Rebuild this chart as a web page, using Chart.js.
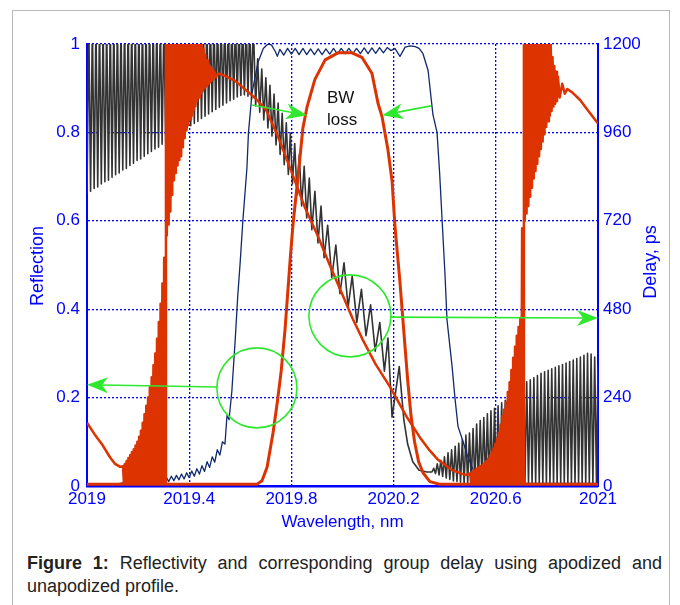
<!DOCTYPE html>
<html>
<head>
<meta charset="utf-8">
<script src="https://cdn.jsdelivr.net/npm/chart.js@4.4.1/dist/chart.umd.min.js"></script>
<style>
  body { margin: 0; background: #fff; }
  #frame { position: absolute; left: 12px; top: 10px; width: 656px; height: 620px; border: 1px solid #b8b8b8; }
  #chart { position: absolute; left: 0; top: 0; }
  #caption {
    position: absolute; left: 27px; top: 552px; width: 635px;
    font: 18px "Liberation Sans", Arial, sans-serif; line-height: 23px;
    text-align: justify; color: #222;
  }
</style>
</head>
<body>
<div id="frame"></div>
<canvas id="chart" width="680" height="540"></canvas>
<div id="caption"><b>Figure 1:</b> Reflectivity and corresponding group delay using apodized and unapodized profile.</div>
<script>
// axis ticks and titles
const xTicks = [2019, 2019.4, 2019.8, 2020.2, 2020.6, 2021];
const xTickLabels = ["2019", "2019.4", "2019.8", "2020.2", "2020.6", "2021"];
const reflTicks = [0, 0.2, 0.4, 0.6, 0.8, 1];
const reflTickLabels = ["0", "0.2", "0.4", "0.6", "0.8", "1"];
const delayTicks = [0, 240, 480, 720, 960, 1200];
const delayTickLabels = ["0", "240", "480", "720", "960", "1200"];
const xTitle = "Wavelength, nm";
const reflTitle = "Reflection";
const delayTitle = "Delay, ps";

// apodized reflectivity [wavelength nm, reflection]
const apoRefl = [
  [2019.000, 0.004], [2019.665, 0.004], [2019.685, 0.012], [2019.705, 0.043], [2019.728, 0.120],
  [2019.745, 0.190], [2019.760, 0.260], [2019.775, 0.353], [2019.795, 0.511], [2019.806, 0.590],
  [2019.826, 0.700], [2019.845, 0.810], [2019.861, 0.857], [2019.892, 0.920], [2019.932, 0.964],
  [2019.982, 0.980], [2020.037, 0.980], [2020.076, 0.970], [2020.115, 0.934], [2020.139, 0.866],
  [2020.155, 0.835], [2020.178, 0.760], [2020.194, 0.690], [2020.205, 0.590], [2020.225, 0.460],
  [2020.240, 0.350], [2020.255, 0.240], [2020.268, 0.160], [2020.282, 0.100], [2020.298, 0.055],
  [2020.315, 0.030], [2020.342, 0.010], [2020.380, 0.004], [2021.000, 0.004]
];

// unapodized reflectivity [wavelength nm, reflection]
const unapoRefl = [
  [2019.000, 0.004], [2019.060, 0.004], [2019.120, 0.005], [2019.150, 0.008], [2019.165, 0.004],
  [2019.180, 0.006], [2019.190, 0.012], [2019.200, 0.005], [2019.210, 0.013], [2019.220, 0.006],
  [2019.230, 0.014], [2019.240, 0.006], [2019.250, 0.015], [2019.260, 0.007], [2019.270, 0.016],
  [2019.280, 0.008], [2019.290, 0.018], [2019.300, 0.009], [2019.310, 0.020], [2019.320, 0.010],
  [2019.330, 0.022], [2019.340, 0.012], [2019.350, 0.024], [2019.360, 0.014], [2019.370, 0.027],
  [2019.380, 0.016], [2019.390, 0.030], [2019.400, 0.019], [2019.410, 0.034], [2019.420, 0.022],
  [2019.430, 0.039], [2019.440, 0.027], [2019.450, 0.046], [2019.460, 0.033], [2019.470, 0.055],
  [2019.480, 0.042], [2019.490, 0.066], [2019.500, 0.054], [2019.510, 0.082], [2019.520, 0.070],
  [2019.530, 0.100], [2019.540, 0.095], [2019.548, 0.160], [2019.556, 0.150], [2019.567, 0.215],
  [2019.580, 0.330], [2019.590, 0.430], [2019.600, 0.510], [2019.610, 0.600], [2019.626, 0.720],
  [2019.632, 0.800], [2019.646, 0.890], [2019.670, 0.960], [2019.690, 0.990], [2019.708, 1.000],
  [2019.722, 0.998], [2019.738, 0.982], [2019.745, 0.972], [2019.755, 0.988], [2019.770, 0.975],
  [2019.785, 0.990], [2019.800, 0.977], [2019.815, 0.990], [2019.830, 0.976], [2019.845, 0.990],
  [2019.860, 0.976], [2019.875, 0.989], [2019.890, 0.976], [2019.905, 0.989], [2019.920, 0.976],
  [2019.935, 0.989], [2019.950, 0.977], [2019.965, 0.990], [2019.980, 0.977], [2019.995, 0.990],
  [2020.010, 0.978], [2020.025, 0.990], [2020.040, 0.978], [2020.055, 0.990], [2020.070, 0.978],
  [2020.085, 0.991], [2020.100, 0.978], [2020.115, 0.991], [2020.130, 0.979], [2020.145, 0.992],
  [2020.160, 0.980], [2020.175, 0.992], [2020.190, 0.985], [2020.205, 0.990], [2020.225, 0.972],
  [2020.245, 0.993], [2020.265, 0.996], [2020.285, 0.994], [2020.300, 0.990], [2020.315, 0.978],
  [2020.335, 0.940], [2020.354, 0.840], [2020.370, 0.800], [2020.380, 0.710], [2020.390, 0.600],
  [2020.401, 0.480], [2020.409, 0.376], [2020.429, 0.270], [2020.440, 0.200], [2020.452, 0.135],
  [2020.472, 0.100], [2020.487, 0.072], [2020.507, 0.043], [2020.526, 0.020], [2020.560, 0.008],
  [2020.700, 0.006], [2021.000, 0.006]
];

// apodized group delay [wavelength nm, ps]
const apoDelay = [
  [2019.000, 172], [2019.030, 140], [2019.060, 112], [2019.090, 78], [2019.110, 60], [2019.130, 52],
  [2019.1410, 54], [2019.1445, 6], [2019.1480, 60], [2019.1515, 6], [2019.1550, 68], [2019.1585, 6],
  [2019.1620, 76], [2019.1655, 6], [2019.1690, 84], [2019.1725, 6], [2019.1760, 92], [2019.1795, 6],
  [2019.1830, 100], [2019.1865, 6], [2019.1900, 110], [2019.1935, 6], [2019.1970, 120], [2019.2005, 6],
  [2019.2040, 134], [2019.2075, 6], [2019.2110, 150], [2019.2145, 6], [2019.2180, 172], [2019.2215, 6],
  [2019.2250, 195], [2019.2285, 6], [2019.2320, 218], [2019.2355, 6], [2019.2390, 240], [2019.2425, 6],
  [2019.2460, 268], [2019.2495, 6], [2019.2530, 295], [2019.2565, 6], [2019.2600, 328], [2019.2635, 6],
  [2019.2670, 360], [2019.2705, 6], [2019.2740, 400], [2019.2775, 6], [2019.2810, 445], [2019.2845, 6],
  [2019.2880, 495], [2019.2915, 6], [2019.2950, 550], [2019.2985, 6], [2019.3020, 620], [2019.3055, 6],
  [2019.3090, 1260], [2019.3125, 680], [2019.3160, 1260], [2019.3195, 710], [2019.3230, 1260], [2019.3265, 745],
  [2019.3300, 1260], [2019.3335, 790], [2019.3370, 1260], [2019.3405, 830], [2019.3440, 1260], [2019.3475, 850],
  [2019.3510, 1260], [2019.3545, 870], [2019.3580, 1260], [2019.3615, 885], [2019.3650, 1260], [2019.3685, 895],
  [2019.3720, 1260], [2019.3755, 920], [2019.3790, 1260], [2019.3825, 945], [2019.3860, 1260], [2019.3895, 965],
  [2019.3930, 1260], [2019.3965, 980], [2019.4000, 1260], [2019.4035, 995], [2019.4070, 1260], [2019.4105, 1005],
  [2019.4140, 1260], [2019.4175, 1020], [2019.4210, 1260], [2019.4245, 1032], [2019.4280, 1260], [2019.4315, 1045],
  [2019.4350, 1250], [2019.4385, 1055], [2019.4420, 1230], [2019.4455, 1065], [2019.4490, 1205], [2019.4525, 1072],
  [2019.4560, 1185], [2019.4595, 1080], [2019.4630, 1170], [2019.4665, 1085], [2019.4700, 1155], [2019.4735, 1090],
  [2019.4770, 1145], [2019.4805, 1095], [2019.4840, 1138], [2019.4875, 1100], [2019.4910, 1132], [2019.4945, 1104],
  [2019.4980, 1126], [2019.5050, 1110], [2019.5120, 1120],
  [2019.532, 1116], [2019.580, 1100], [2019.620, 1076], [2019.660, 1052], [2019.700, 1022], [2019.748, 948],
  [2019.802, 850], [2019.853, 756], [2019.904, 678], [2019.950, 600], [2020.002, 516], [2020.040, 454],
  [2020.080, 396], [2020.130, 330], [2020.186, 269], [2020.252, 187], [2020.303, 132], [2020.342, 96],
  [2020.374, 71], [2020.429, 43], [2020.479, 30],
  [2020.5000, 34], [2020.5035, 6], [2020.5070, 38], [2020.5105, 6], [2020.5140, 42], [2020.5175, 6],
  [2020.5210, 45], [2020.5245, 6], [2020.5280, 48], [2020.5315, 6], [2020.5350, 51], [2020.5385, 6],
  [2020.5420, 54], [2020.5455, 6], [2020.5490, 58], [2020.5525, 6], [2020.5560, 62], [2020.5595, 6],
  [2020.5630, 68], [2020.5665, 6], [2020.5700, 74], [2020.5735, 6], [2020.5770, 82], [2020.5805, 6],
  [2020.5840, 90], [2020.5875, 6], [2020.5910, 102], [2020.5945, 6], [2020.5980, 114], [2020.6015, 6],
  [2020.6050, 128], [2020.6085, 6], [2020.6120, 144], [2020.6155, 6], [2020.6190, 166], [2020.6225, 6],
  [2020.6260, 190], [2020.6295, 6], [2020.6330, 208], [2020.6365, 6], [2020.6400, 228], [2020.6435, 6],
  [2020.6470, 255], [2020.6505, 6], [2020.6540, 282], [2020.6575, 6], [2020.6610, 315], [2020.6645, 6],
  [2020.6680, 348], [2020.6715, 6], [2020.6750, 378], [2020.6785, 6], [2020.6820, 408], [2020.6855, 6],
  [2020.6890, 432], [2020.6925, 6], [2020.6960, 456], [2020.6995, 6], [2020.7030, 700], [2020.7065, 6],
  [2020.7100, 1260], [2020.7135, 720], [2020.7170, 1260], [2020.7205, 740], [2020.7240, 1260], [2020.7275, 760],
  [2020.7310, 1260], [2020.7345, 785], [2020.7380, 1260], [2020.7415, 810], [2020.7450, 1260], [2020.7485, 835],
  [2020.7520, 1260], [2020.7555, 855], [2020.7590, 1260], [2020.7625, 875], [2020.7660, 1260], [2020.7695, 895],
  [2020.7730, 1260], [2020.7765, 915], [2020.7800, 1260], [2020.7835, 935], [2020.7870, 1260], [2020.7905, 955],
  [2020.7940, 1260], [2020.7975, 975], [2020.8010, 1260], [2020.8045, 990], [2020.8080, 1240], [2020.8115, 1005],
  [2020.8150, 1200], [2020.8185, 1018], [2020.8220, 1165], [2020.8255, 1030], [2020.8290, 1140], [2020.8325, 1038],
  [2020.8360, 1125], [2020.8395, 1045], [2020.8430, 1112], [2020.8500, 1055], [2020.8600, 1092], [2020.8700, 1065],
  [2020.8800, 1078], [2020.9000, 1068], [2020.9300, 1048], [2020.9600, 1020], [2021.0000, 984]
];

// unapodized group delay [wavelength nm, ps]
const unapoDelay = [
  [2019.000, 795], [2019.007, 1260], [2019.014, 800], [2019.021, 1260], [2019.028, 808], [2019.035, 1260],
  [2019.042, 812], [2019.049, 1260], [2019.056, 820], [2019.063, 1260], [2019.070, 826], [2019.077, 1260],
  [2019.084, 830], [2019.091, 1260], [2019.098, 838], [2019.105, 1260], [2019.112, 845], [2019.119, 1260],
  [2019.126, 850], [2019.133, 1260], [2019.140, 858], [2019.147, 1260], [2019.154, 862], [2019.161, 1260],
  [2019.168, 870], [2019.175, 1260], [2019.182, 876], [2019.189, 1260], [2019.196, 884], [2019.203, 1260],
  [2019.210, 888], [2019.217, 1260], [2019.224, 895], [2019.231, 1260], [2019.238, 902], [2019.245, 1260],
  [2019.252, 908], [2019.259, 1260], [2019.266, 915], [2019.273, 1260], [2019.280, 920], [2019.287, 1260],
  [2019.294, 928], [2019.301, 1260], [2019.308, 934], [2019.315, 1260], [2019.322, 940], [2019.329, 1260],
  [2019.336, 946], [2019.343, 1260], [2019.350, 952], [2019.357, 1260], [2019.364, 960], [2019.371, 1260],
  [2019.378, 965], [2019.385, 1260], [2019.392, 972], [2019.399, 1260], [2019.406, 978], [2019.413, 1260],
  [2019.420, 984], [2019.427, 1260], [2019.434, 990], [2019.441, 1260], [2019.448, 998], [2019.455, 1260],
  [2019.462, 1004], [2019.469, 1260], [2019.476, 1010], [2019.483, 1260], [2019.490, 1016], [2019.497, 1260],
  [2019.504, 1022], [2019.511, 1260], [2019.518, 1028], [2019.525, 1260], [2019.532, 1034], [2019.539, 1260],
  [2019.546, 1040], [2019.553, 1260], [2019.560, 1046], [2019.567, 1260], [2019.574, 1050], [2019.581, 1260],
  [2019.588, 1056], [2019.595, 1260], [2019.602, 1060], [2019.609, 1260], [2019.616, 1062], [2019.623, 1260],
  [2019.630, 1058], [2019.637, 1260], [2019.644, 1050],
  [2019.651, 1260], [2019.660, 1032], [2019.668, 1160], [2019.676, 1015], [2019.684, 1132], [2019.692, 994],
  [2019.700, 1108], [2019.708, 972], [2019.716, 1088], [2019.724, 950], [2019.732, 1064], [2019.740, 926],
  [2019.748, 1040], [2019.756, 900], [2019.764, 1012], [2019.772, 872], [2019.780, 986], [2019.788, 846],
  [2019.796, 958], [2019.804, 820], [2019.813, 930], [2019.822, 790], [2019.831, 900], [2019.840, 760],
  [2019.850, 868], [2019.860, 728], [2019.870, 836], [2019.880, 696], [2019.892, 800], [2019.904, 660],
  [2019.916, 760], [2019.928, 620],
  [2019.942, 708], [2019.958, 566], [2019.974, 654], [2019.990, 522], [2020.006, 606], [2020.022, 486],
  [2020.038, 570], [2020.056, 444], [2020.074, 534], [2020.092, 408], [2020.110, 492], [2020.128, 366],
  [2020.146, 444], [2020.164, 312], [2020.178, 402], [2020.194, 187], [2020.222, 324], [2020.240, 180],
  [2020.255, 114], [2020.275, 66], [2020.300, 43], [2020.330, 38],
  [2020.350, 38], [2020.357, 48], [2020.364, 34], [2020.371, 60], [2020.378, 30], [2020.385, 70],
  [2020.392, 26], [2020.399, 79], [2020.406, 22], [2020.413, 90], [2020.420, 18], [2020.427, 98],
  [2020.434, 14], [2020.441, 108], [2020.448, 12], [2020.455, 116], [2020.462, 10], [2020.469, 126],
  [2020.476, 6], [2020.483, 138], [2020.490, 6], [2020.497, 144], [2020.504, 6], [2020.511, 156],
  [2020.518, 6], [2020.525, 168], [2020.532, 6], [2020.539, 178], [2020.546, 6], [2020.553, 186],
  [2020.560, 6], [2020.567, 196], [2020.574, 6], [2020.581, 204], [2020.588, 6], [2020.595, 211],
  [2020.602, 6], [2020.609, 218], [2020.616, 6], [2020.623, 226], [2020.630, 6], [2020.637, 233],
  [2020.644, 6], [2020.651, 240], [2020.658, 6], [2020.665, 247], [2020.672, 6], [2020.679, 254],
  [2020.686, 6], [2020.693, 262], [2020.700, 6], [2020.707, 276], [2020.714, 6], [2020.721, 283],
  [2020.728, 6], [2020.735, 288], [2020.742, 6], [2020.749, 294], [2020.756, 6], [2020.763, 300],
  [2020.770, 6], [2020.777, 306], [2020.784, 6], [2020.791, 310], [2020.798, 6], [2020.805, 314],
  [2020.812, 6], [2020.819, 318], [2020.826, 6], [2020.833, 322], [2020.840, 6], [2020.847, 326],
  [2020.854, 6], [2020.861, 330], [2020.868, 6], [2020.875, 334], [2020.882, 6], [2020.889, 338],
  [2020.896, 6], [2020.903, 342], [2020.910, 6], [2020.917, 346], [2020.924, 6], [2020.931, 350],
  [2020.938, 6], [2020.945, 355], [2020.952, 6], [2020.959, 360], [2020.966, 6], [2020.973, 358],
  [2020.980, 6], [2020.987, 350], [2020.994, 6], [2021.000, 324]
];

// green markings drawn over the plot, placed in data units
const markCircles = [
  { wl: 2019.665, refl: 0.222, radius: 40 },
  { wl: 2020.029, refl: 0.385, radius: 41 }
];
const markArrows = [
  { from: [2019.646, 0.862], to: [2019.861, 0.839] },
  { from: [2020.346, 0.860], to: [2020.155, 0.839] },
  { from: [2019.509, 0.224], to: [2019.000, 0.229] },
  { from: [2020.186, 0.382], to: [2021.000, 0.380] }
];
const markText = [
  { text: "BW", wl: 2019.939, refl: 0.876 },
  { text: "loss", wl: 2019.939, refl: 0.828 }
];

const blue = "#0000ff";
const red = "#dc3300";
const font = '"Liberation Sans", Arial, sans-serif';

function toPoints(pairs) {
  return pairs.map((p) => ({ x: p[0], y: p[1] }));
}

// draw axis titles, circles, arrows and the BW loss label
const overlayPlugin = {
  id: "overlay",
  afterDraw(chart) {
    const { ctx, scales, chartArea } = chart;
    const px = (wl) => scales.x.getPixelForValue(wl);
    const py = (r) => scales.y.getPixelForValue(r);
    ctx.save();

    ctx.fillStyle = blue;
    ctx.font = "17px " + font;
    ctx.textAlign = "center";
    ctx.textBaseline = "middle";
    ctx.fillText(xTitle, (chartArea.left + chartArea.right) / 2, 522);
    ctx.font = "18px " + font;
    ctx.save();
    ctx.translate(38, 266);
    ctx.rotate(-Math.PI / 2);
    ctx.fillText(reflTitle, 0, 0);
    ctx.restore();
    ctx.save();
    ctx.translate(651, 262);
    ctx.rotate(-Math.PI / 2);
    ctx.fillText(delayTitle, 0, 0);
    ctx.restore();

    ctx.strokeStyle = "#2ee82e";
    ctx.fillStyle = "#2ee82e";
    ctx.lineWidth = 1.6;
    markCircles.forEach((c) => {
      ctx.beginPath();
      ctx.arc(px(c.wl), py(c.refl), c.radius, 0, Math.PI * 2);
      ctx.stroke();
    });
    markArrows.forEach((a) => {
      const x1 = px(a.from[0]), y1 = py(a.from[1]);
      const x2 = px(a.to[0]), y2 = py(a.to[1]);
      const len = Math.hypot(x2 - x1, y2 - y1);
      const ux = (x2 - x1) / len, uy = (y2 - y1) / len;
      const nx = -uy, ny = ux;
      const headLen = 21, headW = 8, notch = 6;
      const bx = x2 - ux * headLen, by = y2 - uy * headLen;
      const mx = x2 - ux * (headLen - notch), my = y2 - uy * (headLen - notch);
      ctx.beginPath();
      ctx.moveTo(x1, y1);
      ctx.lineTo(mx, my);
      ctx.stroke();
      ctx.beginPath();
      ctx.moveTo(x2, y2);
      ctx.lineTo(bx + nx * headW, by + ny * headW);
      ctx.lineTo(mx, my);
      ctx.lineTo(bx - nx * headW, by - ny * headW);
      ctx.closePath();
      ctx.fill();
    });

    ctx.fillStyle = "#111";
    ctx.font = "17px " + font;
    ctx.textAlign = "left";
    markText.forEach((t) => ctx.fillText(t.text, px(t.wl), py(t.refl)));
    ctx.restore();
  }
};

const ctx = document.getElementById("chart").getContext("2d");
new Chart(ctx, {
  type: "line",
  data: {
    datasets: [
      { label: "Apodized reflectivity", data: toPoints(apoRefl), yAxisID: "y", borderColor: red, borderWidth: 3, order: 0 },
      { label: "Apodized delay", data: toPoints(apoDelay), yAxisID: "y2", borderColor: red, borderWidth: 2.5, order: 1 },
      { label: "Unapodized reflectivity", data: toPoints(unapoRefl), yAxisID: "y", borderColor: "#112a6e", borderWidth: 1.3, order: 2 },
      { label: "Unapodized delay", data: toPoints(unapoDelay), yAxisID: "y2", borderColor: "#333333", borderWidth: 1.6, order: 3 }
    ]
  },
  options: {
    responsive: false,
    animation: false,
    layout: { padding: { top: 44, left: 0, right: 0, bottom: 0 } },
    elements: {
      point: { radius: 0 },
      line: { tension: 0, borderJoinStyle: "round", fill: false }
    },
    plugins: { legend: { display: false }, tooltip: { enabled: false } },
    scales: {
      x: {
        type: "linear",
        min: 2019,
        max: 2021,
        afterBuildTicks: (s) => { s.ticks = xTicks.map((v) => ({ value: v })); },
        afterFit: (s) => { s.height = 54; },
        ticks: {
          callback: (v, i) => xTickLabels[i],
          color: blue, font: { family: font, size: 17 }, padding: 3, maxRotation: 0, autoSkip: false
        },
        grid: { color: blue, lineWidth: 1.3, drawTicks: false },
        border: { color: blue, width: 2.5, dash: [2, 2] }
      },
      y: {
        position: "left",
        min: 0,
        max: 1,
        afterBuildTicks: (s) => { s.ticks = reflTicks.map((v) => ({ value: v })); },
        afterFit: (s) => { s.width = 87; },
        ticks: {
          callback: (v, i) => reflTickLabels[i],
          color: blue, font: { family: font, size: 17 }, padding: 7
        },
        grid: { color: blue, lineWidth: 1.3, drawTicks: false },
        border: { color: blue, width: 2, dash: [2, 2] }
      },
      y2: {
        position: "right",
        min: 0,
        max: 1200,
        afterBuildTicks: (s) => { s.ticks = delayTicks.map((v) => ({ value: v })); },
        afterFit: (s) => { s.width = 82; },
        ticks: {
          callback: (v, i) => delayTickLabels[i],
          color: blue, font: { family: font, size: 17 }, padding: 5
        },
        grid: { display: false, drawTicks: false },
        border: { color: blue, width: 2 }
      }
    }
  },
  plugins: [overlayPlugin]
});
</script>
</body>
</html>
